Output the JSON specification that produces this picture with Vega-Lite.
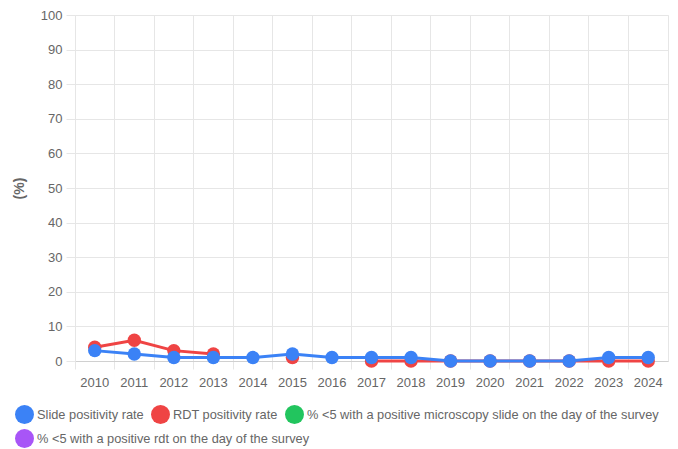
{
  "$schema": "https://vega.github.io/schema/vega-lite/v6.json",
  "width": 593,
  "height": 346,
  "autosize": {"type": "none"},
  "padding": {"left": 75, "top": 15, "right": 10, "bottom": 88},
  "config": {
    "font": "Liberation Sans",
    "view": {"stroke": "#e6e6e6", "strokeWidth": 1},
    "axis": {"labelColor": "#666666", "titleColor": "#666666", "gridColor": "#e6e6e6", "tickColor": "#e6e6e6", "domainColor": "#e6e6e6", "labelFont": "Liberation Sans", "titleFont": "Liberation Sans"},
    "legend": {"symbolType": "circle", "symbolSize": 360, "symbolStrokeWidth": 0, "symbolOpacity": 1, "labelFontSize": 12.8, "labelColor": "#666666", "labelOffset": 3, "columnPadding": 7, "rowPadding": 8, "padding": 0, "labelLimit": 500, "labelFont": "Liberation Sans"}
  },
  "data": {
    "values": [
      {"year": "2010", "series": "RDT positivity rate", "value": 4},
      {"year": "2011", "series": "RDT positivity rate", "value": 6},
      {"year": "2012", "series": "RDT positivity rate", "value": 3},
      {"year": "2013", "series": "RDT positivity rate", "value": 2},
      {"year": "2014", "series": "RDT positivity rate", "value": null},
      {"year": "2015", "series": "RDT positivity rate", "value": 1},
      {"year": "2016", "series": "RDT positivity rate", "value": null},
      {"year": "2017", "series": "RDT positivity rate", "value": 0},
      {"year": "2018", "series": "RDT positivity rate", "value": 0},
      {"year": "2019", "series": "RDT positivity rate", "value": 0},
      {"year": "2020", "series": "RDT positivity rate", "value": 0},
      {"year": "2021", "series": "RDT positivity rate", "value": 0},
      {"year": "2022", "series": "RDT positivity rate", "value": 0},
      {"year": "2023", "series": "RDT positivity rate", "value": 0},
      {"year": "2024", "series": "RDT positivity rate", "value": 0},
      {"year": "2010", "series": "Slide positivity rate", "value": 3},
      {"year": "2011", "series": "Slide positivity rate", "value": 2},
      {"year": "2012", "series": "Slide positivity rate", "value": 1},
      {"year": "2013", "series": "Slide positivity rate", "value": 1},
      {"year": "2014", "series": "Slide positivity rate", "value": 1},
      {"year": "2015", "series": "Slide positivity rate", "value": 2},
      {"year": "2016", "series": "Slide positivity rate", "value": 1},
      {"year": "2017", "series": "Slide positivity rate", "value": 1},
      {"year": "2018", "series": "Slide positivity rate", "value": 1},
      {"year": "2019", "series": "Slide positivity rate", "value": 0},
      {"year": "2020", "series": "Slide positivity rate", "value": 0},
      {"year": "2021", "series": "Slide positivity rate", "value": 0},
      {"year": "2022", "series": "Slide positivity rate", "value": 0},
      {"year": "2023", "series": "Slide positivity rate", "value": 1},
      {"year": "2024", "series": "Slide positivity rate", "value": 1}
    ]
  },
  "encoding": {
    "x": {
      "field": "year", "type": "ordinal",
      "scale": {"type": "band", "paddingInner": 0, "paddingOuter": 0},
      "axis": {"title": null, "labelAngle": 0, "labelFontSize": 13, "bandPosition": 0, "grid": true, "tickSize": 8, "labelPadding": 7, "domainColor": "#d0d0d0"}
    },
    "y": {
      "field": "value", "type": "quantitative",
      "scale": {"domain": [0, 100], "nice": false},
      "axis": {"title": "(%)", "titleFontSize": 14, "titleFontWeight": "bold", "titlePadding": 14, "values": [0,10,20,30,40,50,60,70,80,90,100], "labelFontSize": 13, "tickSize": 9, "labelPadding": 4, "grid": true}
    }
  },
  "layer": [
    {
      "transform": [{"filter": "datum.series === 'RDT positivity rate'"}],
      "encoding": {
        "color": {
          "field": "series", "type": "nominal",
          "scale": {
            "domain": ["Slide positivity rate", "RDT positivity rate", "% <5 with a positive microscopy slide on the day of the survey", "% <5 with a positive rdt on the day of the survey"],
            "range": ["#3b82f6", "#ef4444", "#22c55e", "#a855f7"]
          },
          "legend": {
            "title": null, "orient": "none", "legendX": -60, "legendY": 390, "direction": "horizontal",
            "values": ["Slide positivity rate", "RDT positivity rate", "% <5 with a positive microscopy slide on the day of the survey"]
          }
        }
      },
      "layer": [
        {"mark": {"type": "line", "strokeWidth": 3}},
        {"mark": {"type": "point", "filled": true, "opacity": 1, "size": 180, "shape": "circle"}}
      ]
    },
    {
      "transform": [{"filter": "datum.series === 'Slide positivity rate'"}],
      "encoding": {
        "color": {"field": "series", "type": "nominal"}
      },
      "layer": [
        {"mark": {"type": "line", "strokeWidth": 3}},
        {"mark": {"type": "point", "filled": true, "opacity": 1, "size": 180, "shape": "circle"}}
      ]
    },
    {
      "transform": [{"filter": "datum.series === '% <5 with a positive rdt on the day of the survey'"}],
      "mark": {"type": "point", "filled": true, "opacity": 1, "size": 180, "shape": "circle"},
      "encoding": {
        "fill": {
          "field": "series", "type": "nominal",
          "scale": {"domain": ["% <5 with a positive rdt on the day of the survey"], "range": ["#a855f7"]},
          "legend": {"title": null, "orient": "none", "legendX": -60, "legendY": 414, "direction": "horizontal"}
        }
      }
    }
  ]
}
